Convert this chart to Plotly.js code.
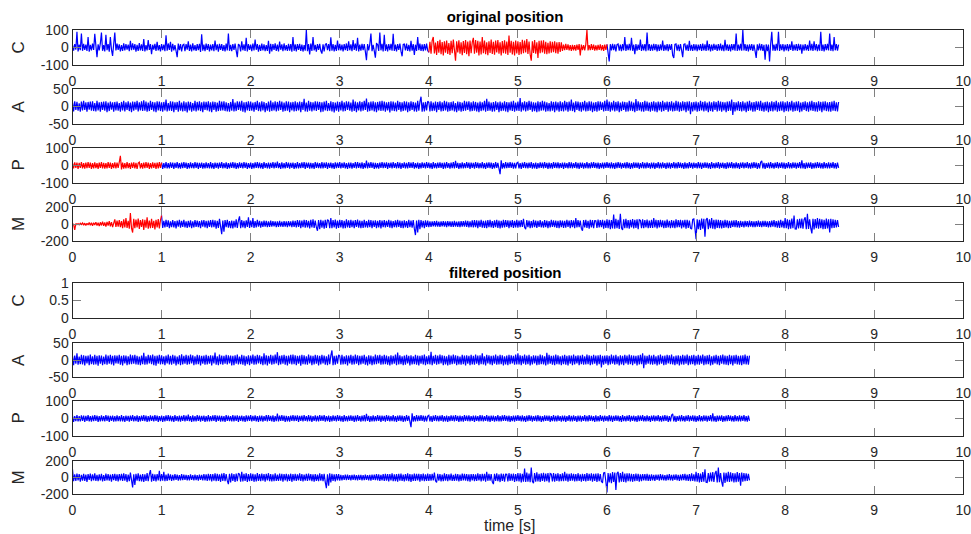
<!DOCTYPE html>
<html>
<head>
<meta charset="utf-8">
<script src="https://cdn.plot.ly/plotly-3.0.1.min.js"></script>
<style>html,body{margin:0;padding:0;background:#fff;}#chart{width:971px;height:534px;}</style>
</head>
<body>
<div id="chart"></div>
<script>
// sampling step of the recorded signals (s)
const sampleStep = 0.0125;

// original position signals (one value per sample, 40 samples per 0.5 s row)
const cOriginal = [
14,-18,20,-12,90,-22,16,-15,80,-19,21,-13,17,-20,60,-24,15,-17,22,-14,78,-21,-55,18,-16,23,85,-19,13,-22,72,-15,19,-24,60,-12,-48,20,85,-17,
22,-14,18,-23,13,-19,24,-16,20,-12,17,-21,38,-15,23,-13,19,-24,15,-20,25,-16,18,-19,48,-22,13,-17,42,-14,20,-38,16,-12,21,-19,32,-17,14,-22,
19,-15,17,-21,70,-18,23,-14,33,-24,21,-17,13,-20,-55,22,-15,19,-23,14,18,-21,20,-12,35,-19,16,-22,24,-17,14,-20,19,-15,21,-25,75,-18,17,-21,
22,-14,19,-23,16,-17,20,-21,40,-15,18,-24,21,-13,19,-20,14,-22,23,-17,80,-19,15,-21,20,-14,22,-18,-55,19,13,-23,36,-16,18,-20,55,-22,19,-14,
16,-21,23,-17,45,-13,19,-24,15,-19,22,-16,18,-21,13,-20,38,-36,21,-23,19,-14,24,-19,16,-22,34,-13,18,-21,23,-16,14,-20,21,-18,19,-24,60,-19,
18,-22,20,-14,21,-19,16,-23,13,-18,100,-21,19,-40,22,-20,60,-17,15,-24,20,-13,21,-19,-35,18,-22,16,23,-15,19,-21,58,-18,20,-23,15,-19,40,-16,
21,-17,16,-22,19,-15,23,-20,35,-16,18,-21,42,-14,22,-19,55,-23,17,-18,21,-15,19,-24,-72,20,-17,18,80,-21,15,-19,-58,22,18,-20,85,-16,21,-23,
72,-19,18,-22,20,-15,21,-18,78,-20,16,-23,19,-14,22,-21,-50,18,20,-17,23,-19,15,-22,38,-18,19,-42,16,-20,60,-15,22,-19,18,-21,20,-17,23,-18,
-28,32,-36,40,60,-34,28,-42,37,-30,44,-38,31,-46,35,-29,40,-37,26,-43,38,-32,45,-40,-75,36,-28,41,-35,30,-44,37,-31,43,-39,34,-50,40,-33,29,
55,-36,42,-30,38,-45,34,-40,60,-32,40,-38,29,-44,36,-31,45,-37,33,-41,39,-28,43,-35,30,-46,37,-32,41,-36,34,-43,68,-30,38,-40,32,-45,39,-34,
36,-42,31,-38,44,-33,40,-29,48,-37,34,-40,-75,35,-31,43,-36,30,-60,38,-33,39,-28,41,-35,32,-38,27,-34,36,-30,33,-27,35,-32,29,-36,31,-26,30,
-20,17,-15,21,-14,18,-16,13,-19,15,-17,14,-18,16,-13,19,-45,17,-15,14,-16,18,100,-17,13,-15,19,-14,16,-18,12,-17,15,-13,18,-16,14,-19,17,-14,
18,-20,-80,19,-17,21,-15,18,-22,16,20,-18,17,-21,19,-16,60,-20,18,-15,21,-17,55,-19,16,-38,20,-18,17,-14,45,-19,18,-16,20,-21,85,-17,19,-20,
16,-18,21,-15,19,-22,17,-20,18,-16,40,-19,15,-17,20,-21,18,-14,19,-45,-60,17,20,-18,16,-21,19,-15,-55,18,21,-17,16,-20,38,-18,15,-19,20,-16,
18,-21,17,-15,20,-19,22,-16,18,-20,40,-17,19,-22,16,-18,21,-14,17,-20,19,-16,22,-18,15,-21,44,-17,18,-19,16,-22,20,-15,19,-18,80,-20,17,-16,
21,-18,100,-17,19,-20,16,-22,18,-15,20,-19,17,-21,-60,18,-16,22,-17,19,-20,15,-70,18,-21,17,-80,20,90,-18,16,-19,21,-17,90,-20,18,-15,19,-22,
17,-16,20,-21,18,-14,35,-19,16,-17,19,-20,21,-15,18,-35,17,-18,20,-16,15,-19,40,-17,21,-20,36,-16,19,-21,17,-18,90,-20,16,-22,19,-15,21,-17,
80,-19,17,-21,60,-16,20,-18,17
];
const aOriginal = [
12,-14,15,-10,13,-12,9,-15,14,-11,16,-10,12,-15,13,-9,14,-12,15,-13,10,-14,16,-11,12,-15,13,-10,14,-12,15,-16,11,-13,14,-9,12,-15,13,-11,
14,-12,10,-15,13,-11,16,-14,12,-10,15,-13,11,-16,14,-12,13,-9,16,-14,12,-11,15,-13,18,-12,14,-15,11,-13,16,-10,13,-14,12,-16,15,-11,14,-13,
12,-15,13,-11,20,-14,10,-12,15,-13,14,-16,12,-10,13,-15,16,-12,11,-14,15,-13,12,-17,14,-11,13,-15,10,-12,16,-14,13,-11,15,-13,12,-16,14,-10,
13,-11,15,-14,12,-16,14,-10,13,-15,11,-13,16,-12,14,-11,15,-13,12,-14,10,-15,13,-12,21,-14,11,-13,15,-10,14,-12,16,-15,12,-17,13,-11,15,-13,
14,-12,11,-15,13,-10,16,-13,12,-14,15,-11,13,-16,10,-12,14,-15,17,-13,12,-11,15,-14,13,-12,16,-10,14,-15,11,-13,15,-12,14,-16,12,-11,13,-14,
15,-13,12,-11,14,-16,13,-10,22,-14,11,-15,16,-12,13,-14,12,-11,15,-13,14,-10,13,-16,12,-15,14,-11,16,-13,10,-12,15,-14,13,-17,11,-12,14,-15,
13,-11,16,-14,12,-13,15,-10,14,-12,11,-15,20,-13,14,-16,12,-11,15,-14,13,-12,16,-10,23,-15,12,-13,14,-11,15,-14,12,-16,13,-11,15,-13,16,-12,
14,-15,12,-11,13,-17,15,-12,14,-13,11,-14,16,-10,13,-15,12,-13,15,-11,14,-16,12,-13,15,-10,13,-14,11,-15,16,-12,13,28,-15,12,-14,13,-11,15,
12,-14,15,-13,11,-12,14,-16,13,-10,15,-14,12,-13,16,-11,14,-15,12,-13,13,-11,15,-14,10,-16,14,-12,13,-15,11,-13,16,-12,14,-10,15,-14,12,-13,
15,-12,13,-14,11,-16,14,-13,12,-11,16,-15,22,-13,14,-12,11,-15,13,-14,15,-10,12,-16,14,-13,11,-12,15,-14,13,-16,12,-11,14,-13,16,-15,11,-12,
14,-13,24,-15,12,-11,15,-14,13,-12,16,-10,14,-15,12,-13,11,-16,15,-14,13,-12,16,-11,14,-15,12,-13,10,-14,15,-12,13,-16,14,-11,12,-15,15,-13,
12,-14,16,-11,13,-15,14,-12,20,-13,11,-16,15,-10,14,-13,12,-15,13,-11,16,-14,12,-13,15,-12,14,-16,11,-13,13,-15,15,-12,14,-10,12,-14,16,-13,
20,-13,14,-15,12,-11,16,-14,13,-12,15,-16,11,-13,14,-10,13,-15,12,-14,16,-12,14,-13,11,-16,21,-13,15,-11,12,-14,13,-15,16,-12,14,-13,11,-15,
13,-12,15,-14,12,-16,14,-11,13,-15,16,-13,12,-10,14,-15,13,-12,15,-14,11,-13,16,-12,14,-15,12,-13,15,-11,13,-16,14,-12,15,-22,12,-14,13,-11,
14,-15,12,-13,16,-11,13,-14,15,-12,11,-16,14,-13,12,-15,15,-10,13,-14,16,-12,14,-15,13,-11,12,-16,14,-13,15,-12,20,-24,13,-14,12,-11,15,-13,
13,-14,15,-12,11,-16,14,-13,16,-11,12,-15,13,-14,15,-10,14,-12,16,-13,11,-15,13,-12,14,-16,12,-13,15,-14,13,-11,16,-15,12,-13,14,-12,15,-16,
12,-13,15,-14,13,-11,16,-15,12,-13,14,-12,15,-16,11,-14,13,-10,15,-13,12,-15,14,-11,16,-13,13,-14,12,-15,15,-12,13,-16,14,-11,15,-13,12,-14,
13,-15,14,-12,16,-13,12,-14,13
];
const pOriginal = [
14,-17,18,-13,16,-20,15,-14,19,-16,13,-18,17,-15,20,-14,16,-19,13,-17,18,-15,14,-20,17,-13,19,-16,15,-18,14,-17,20,-14,16,-19,13,-15,18,-16,
17,-14,19,55,-22,16,-18,14,-17,20,-15,13,-19,16,-14,18,-17,15,-20,14,19,-16,13,-18,17,-15,20,-14,16,-19,14,-17,18,-13,15,-20,17,-16,19,-14,
16,-19,14,-15,20,-17,13,-16,18,-14,17,-20,15,-13,19,-16,14,-18,17,-15,20,-14,16,-19,13,-17,18,-15,14,-16,19,-13,17,-20,15,-14,16,-18,14,-17,
18,-15,14,-17,19,-16,13,-20,17,-14,15,-18,16,-13,20,-17,14,-15,18,-19,13,-16,17,-14,19,-15,16,-20,14,-17,18,-13,15,-16,20,-14,17,-19,13,-15,
17,-20,14,-16,18,-13,19,-15,16,-17,14,-19,20,-14,13,-16,17,-18,15,-14,19,-17,16,-13,22,-15,14,-20,18,-16,13,-17,19,-14,16,-18,15,-13,17,-19,
14,-16,20,-17,13,-15,18,-14,19,-20,16,-13,17,-18,15,-16,14,-19,20,-14,17,-15,13,-17,19,-16,16,-14,18,-20,15,-13,17,-16,14,-19,18,-15,16,-14,
19,-17,15,-14,18,-16,13,-20,17,-15,16,-18,14,-13,20,-17,19,-14,15,-16,18,-19,14,-15,28,-17,16,-13,19,-14,17,-20,15,-16,13,-18,16,-14,20,-15,
16,-14,18,-19,15,-13,17,-16,20,-14,14,-17,19,-15,16,-20,13,-14,18,-17,15,-16,20,-13,17,-14,19,-18,14,-15,16,-19,13,-17,18,-14,15,-16,20,-13,
17,-16,14,-20,19,-15,13,-17,16,-14,18,-13,15,-19,17,-16,20,-14,14,-18,16,-15,19,-17,26,-14,15,-20,13,-16,18,-17,14,-15,20,-13,16,-19,17,-14,
15,-18,19,-14,16,-17,13,-15,20,-16,14,-19,17,-13,18,-15,16,-20,14,-17,19,-14,15,-16,-50,30,-18,14,-17,20,-15,16,-13,19,-14,17,-18,15,-16,14,
18,-16,14,-19,17,-13,20,-15,15,-17,16,-14,19,-18,13,-16,17,-20,14,-15,18,-13,16,-17,20,-14,15,-19,17,-16,14,-18,19,-13,16,-15,18,-17,13,-14,
16,-19,17,-14,13,-16,20,-15,18,-17,14,-13,19,-16,15,-20,17,-14,16,-18,13,-15,20,-17,14,-16,18,-13,19,-14,15,-17,16,-20,14,-15,17,-18,16,-13,
19,-14,15,-17,18,-16,13,-19,16,-15,20,-14,17,-18,14,-13,16,-17,19,-15,15,-20,14,-16,18,-13,17,-14,16,-19,13,-15,20,-17,15,-16,18,-14,14,-18,
17,-15,16,-19,14,-13,19,-17,15,-16,18,-14,13,-20,17,-15,16,-18,14,-13,20,-16,15,-17,19,-14,16,-15,13,-19,18,-17,14,-16,20,-13,15,-18,17,-14,
14,-17,19,-15,16,-20,15,-14,18,-13,17,-16,14,-19,20,-15,13,-17,16,-14,19,-18,15,-13,17,-16,14,-20,18,-15,16,-14,19,-17,13,-16,18,-15,14,-19,
16,-13,18,-17,15,-14,20,-16,14,-18,17,-15,19,-13,16,-20,14,-17,18,26,-16,15,-19,13,-14,17,-16,20,-15,14,-18,16,-13,19,-17,15,-14,18,-16,17,
-19,14,-15,20,-16,13,-17,18,-14,16,-18,15,-13,19,-17,30,-16,14,-20,17,-15,16,-14,18,-19,13,-16,17,-15,20,-14,16,-17,13,-18,19,-15,14,-16,18,
-17,15,-14,19,-16,13,-18,16,-14
];
const mOriginal = [
3,-4,-70,6,-8,5,-10,9,-7,12,-13,10,-16,9,-12,18,-15,14,-20,16,-12,22,-19,15,-25,20,-17,28,-22,18,-30,25,-20,33,-28,22,-36,30,55,-33,
40,-30,45,-38,35,-50,55,-40,70,-45,38,-55,130,-50,-100,60,-48,52,-40,65,-58,45,-35,55,-70,48,-42,80,-55,40,-50,62,-45,38,-65,50,-40,58,-52,45,
100,-45,38,-40,48,-35,42,-50,32,-38,45,-40,35,-52,40,-30,48,-43,37,-35,50,-40,32,-45,38,-36,43,-48,30,-40,46,-34,40,-38,35,-50,42,-32,45,-40,
38,-48,40,-35,45,-40,50,-38,42,-55,36,-45,60,-50,-120,40,-90,45,-38,50,-43,35,-48,40,-52,38,-40,55,-45,40,90,-50,45,-40,38,-48,42,-35,80,-45,
40,-38,70,-45,35,-40,48,-32,38,-42,32,-35,40,-30,36,-38,30,-34,40,-32,35,-28,32,-36,30,-34,38,-30,28,-35,34,-32,30,-38,35,-29,32,-36,40,-34,
38,-40,45,-35,42,-48,40,-38,50,-43,45,-40,38,-52,48,-40,55,-45,40,-38,-80,45,-60,50,-42,40,-55,48,-45,52,40,-50,70,-48,45,-40,52,-55,40,-45,
50,-40,45,-52,38,-48,55,-40,42,-45,48,-38,40,-50,45,-35,52,-43,40,-48,38,-45,50,-40,35,-42,48,-38,45,-50,40,-35,43,-48,38,-40,46,-52,40,-38,
45,-40,38,-35,50,-42,40,-48,35,-38,43,-40,48,-35,40,-45,38,-50,42,-40,35,-45,50,-38,40,-43,45,-55,-130,40,-100,50,-60,45,-40,38,-48,42,-35,40,
-38,32,-35,30,-28,34,-32,36,-30,28,-34,32,-29,35,-31,30,-36,33,-28,32,-35,30,-33,36,-30,28,-34,32,-37,35,-30,34,-32,40,-35,38,-40,32,-36,42,
-40,45,-38,42,-48,40,-35,50,-43,38,-45,40,-50,45,-38,48,-40,35,-46,42,-38,50,-45,40,-52,38,-42,48,-40,45,-35,43,-50,40,-38,46,-45,38,-40,48,
-42,40,-38,45,-35,60,-40,-60,45,-38,40,-48,35,-43,50,-38,40,-45,38,-35,46,-40,32,-42,45,-38,40,-48,35,-40,48,-35,43,-38,40,-45,38,-50,42,-36,
40,-45,38,-42,50,-35,40,-48,45,-38,43,-50,70,-40,45,-38,40,-52,-80,45,-40,50,-45,38,-55,48,-40,45,-50,40,38,-46,52,-40,45,-38,48,-55,40,-45,
55,-48,50,-60,45,-52,110,-55,60,-50,48,-58,120,-45,-70,55,-50,62,-48,45,-55,50,-40,58,-52,48,-45,55,-60,50,42,-48,55,-50,45,-40,52,-48,40,-45,
50,-45,70,-40,48,-52,45,-40,50,-38,43,-48,40,-45,52,-40,38,-50,45,-42,40,-48,55,-40,45,-38,50,-52,43,-40,48,-55,50,-45,40,-50,-60,55,60,-48,
-180,55,-60,50,-70,65,-55,60,-150,50,70,-60,55,-50,70,-55,48,-60,52,-45,50,-48,45,-52,40,-45,48,-40,43,-50,38,-45,40,-35,42,-38,45,-40,35,-42,
38,-35,32,-40,36,-30,35,-38,40,-32,34,-36,30,-38,35,-32,40,-34,32,-37,36,-30,38,-35,32,-40,34,-36,40,-32,45,-38,35,-42,40,-45,50,-40,38,-48,
70,-50,55,-60,48,-55,65,-50,100,-58,-60,55,-52,60,-48,65,-55,50,80,-60,120,-58,55,-50,-110,60,-65,58,-50,70,-55,62,-48,55,-60,50,-58,65,-52,55,
-100,60,-50,55,-45,50,-40,45,-35
];

// rejected (red) time spans in the original signals [start, end] in s
const cRejectedSpan = [4.0, 6.0];
const pRejectedSpan = [0.0, 1.0];
const mRejectedSpan = [0.0, 1.0];
// the filtered signals start after this many seconds of the original
const filteredCutTime = 1.0;

// tick labels
const xTicks = [0,1,2,3,4,5,6,7,8,9,10];
const panelNames = ['C','A','P','M','C','A','P','M'];
const yTickVals = [[-100,0,100],[-50,0,50],[-100,0,100],[-200,0,200],[0,0.5,1],[-50,0,50],[-100,0,100],[-200,0,200]];
const yTickText = [['-100','0','100'],['-50','0','50'],['-100','0','100'],['-200','0','200'],['0','0.5','1'],['-50','0','50'],['-100','0','100'],['-200','0','200']];

// ---- derived series
const timeOf = (arr) => arr.map((_, i) => Math.round(i * sampleStep * 10000) / 10000);
const cutIndex = Math.round(filteredCutTime / sampleStep);
const aFiltered = aOriginal.slice(cutIndex);
const pFiltered = pOriginal.slice(cutIndex);
const mFiltered = mOriginal.slice(cutIndex);

// split a signal into the kept (blue) part and the rejected (red) part
function split(arr, span) {
  const t = timeOf(arr);
  const eps = 1e-9;
  const blue = {x: [], y: []}, red = {x: [], y: []};
  t.forEach((tt, i) => {
    const inside = tt > span[0] + eps && tt < span[1] - eps;
    const onEdge = Math.abs(tt - span[0]) < eps || Math.abs(tt - span[1]) < eps;
    if (inside || onEdge) { red.x.push(tt); red.y.push(arr[i]); }
    if (!inside) { blue.x.push(tt); blue.y.push(arr[i]); }
    else if (blue.y.length && blue.y[blue.y.length - 1] !== null) { blue.x.push(tt); blue.y.push(null); }
  });
  return {blue, red};
}

const BLUE = '#0000ff', RED = '#ff0000';
const traces = [];
function line(x, y, color, ax) {
  traces.push({type:'scatter', mode:'lines', x:x, y:y, xaxis:'x'+ax, yaxis:'y'+ax,
    line:{color:color, width:1.2}, hoverinfo:'skip', showlegend:false, connectgaps:false});
}
// original
let s = split(cOriginal, cRejectedSpan);
line(s.blue.x, s.blue.y, BLUE, ''); line(s.red.x, s.red.y, RED, '');
line(timeOf(aOriginal), aOriginal, BLUE, '2');
s = split(pOriginal, pRejectedSpan);
line(s.blue.x, s.blue.y, BLUE, '3'); line(s.red.x, s.red.y, RED, '3');
s = split(mOriginal, mRejectedSpan);
line(s.blue.x, s.blue.y, BLUE, '4'); line(s.red.x, s.red.y, RED, '4');
// filtered
line([], [], BLUE, '5');
line(timeOf(aFiltered), aFiltered, BLUE, '6');
line(timeOf(pFiltered), pFiltered, BLUE, '7');
line(timeOf(mFiltered), mFiltered, BLUE, '8');

const W = 971, H = 534;
const panelPx = [[30,65],[89,124],[148,183],[207,241],[283,318],[343,377],[401,436],[461,494]];
const FONT = 'Liberation Sans, Arial, Helvetica, sans-serif';
const TXT = '#262626';

const layout = {
  width: W, height: H,
  margin: {l:0, r:0, t:0, b:0},
  paper_bgcolor: '#fff', plot_bgcolor: '#fff',
  font: {family: FONT, color: TXT, size: 14},
  showlegend: false,
  title: {text: '<b>original position</b>', x: 505/W, xanchor: 'center', xref: 'paper',
          y: 1 - 17/H, yanchor: 'middle', yref: 'container', font: {size: 15, color: '#000', family: FONT}},
  annotations: [
    {text: '<b>filtered position</b>', x: 505/W, y: 1 - 272/H, xref: 'paper', yref: 'paper',
     xanchor: 'center', yanchor: 'middle', showarrow: false, font: {size: 15, color: '#000', family: FONT}},
    {text: 'time [s]', x: 510/W, y: 1 - 525/H, xref: 'paper', yref: 'paper',
     xanchor: 'center', yanchor: 'middle', showarrow: false, font: {size: 16, color: TXT, family: FONT}}
  ]
};

for (let k = 0; k < 8; k++) {
  const id = k === 0 ? '' : String(k + 1);
  const [top, bot] = panelPx[k];
  layout['xaxis' + id] = {
    domain: [72.5/W, 963.3/W], anchor: 'y' + id, range: [0, 10],
    tickmode: 'array', tickvals: xTicks, ticktext: xTicks.map(String),
    ticks: 'inside', ticklen: 8, tickwidth: 1, tickcolor: '#808080',
    showline: true, linecolor: TXT, linewidth: 1, mirror: 'ticks',
    showgrid: false, zeroline: false, fixedrange: true,
    ticklabeloverflow: 'allow', ticklabelstandoff: 3,
    tickfont: {size: 14, color: TXT, family: FONT}
  };
  const lo = yTickVals[k][0], hi = yTickVals[k][2];
  layout['yaxis' + id] = {
    domain: [1 - bot/H, 1 - top/H], anchor: 'x' + id, range: [lo, hi],
    tickmode: 'array', tickvals: yTickVals[k], ticktext: yTickText[k],
    ticks: 'inside', ticklen: 8, tickwidth: 1, tickcolor: '#808080',
    showline: true, linecolor: TXT, linewidth: 1, mirror: 'ticks',
    showgrid: false, zeroline: false, fixedrange: true,
    ticklabeloverflow: 'allow',
    tickfont: {size: 14, color: TXT, family: FONT}
  };
  layout.annotations.push({
    text: panelNames[k], x: 18/W, y: 1 - (top + bot)/2/H, xref: 'paper', yref: 'paper',
    xanchor: 'center', yanchor: 'middle', textangle: -90, showarrow: false,
    font: {size: 17, color: TXT, family: FONT}
  });
}

Plotly.newPlot('chart', traces, layout, {displayModeBar: false, staticPlot: true});
</script>
</body>
</html>
